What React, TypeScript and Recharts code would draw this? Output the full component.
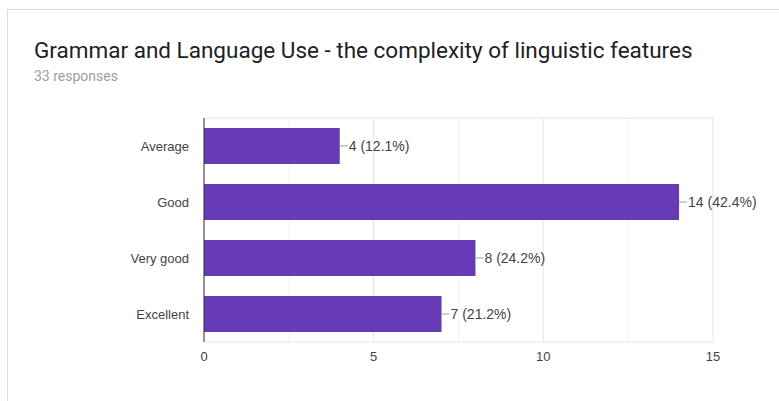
import React from 'react';
import { BarChart, Bar, XAxis, YAxis, CartesianGrid, LabelList } from 'recharts';

const titleText = 'Grammar and Language Use - the complexity of linguistic features';
const subtitleText = '33 responses';
const categories = ['Average', 'Good', 'Very good', 'Excellent'];
const counts = [4, 14, 8, 7];
const percents = ['12.1%', '42.4%', '24.2%', '21.2%'];
const xTicks = [0, 5, 10, 15];
const minorTicks = [2.5, 7.5, 12.5];
const xDomain = [0, 15];

const data = categories.map((c, i) => ({ name: c, value: counts[i], pct: percents[i] }));

const FONT = '"Liberation Sans", Arial, sans-serif';

const ValueLabel = (props: any) => {
  const vb = props.viewBox && props.viewBox.width !== undefined ? props.viewBox : props;
  const x = Number(vb.x);
  const y = Number(vb.y);
  const width = Number(vb.width);
  const height = Number(vb.height);
  const index = props.index;
  const ex = x + width;
  const cy = y + height / 2;
  return (
    <g>
      <line x1={ex} y1={cy} x2={ex + 8} y2={cy} stroke="#9e9e9e" strokeWidth={1} />
      <text x={ex + 9} y={cy} dy="0.35em" fontSize={14} fill="#444" fontFamily={FONT}>
        {`${counts[index]} (${percents[index]})`}
      </text>
    </g>
  );
};

const minorGen = (p: any) => {
  const s = p && p.xAxis && p.xAxis.scale;
  return minorTicks.map((v) => {
    if (typeof s === 'function') return s(v);
    const o = p.offset;
    return o.left + ((v - xDomain[0]) / (xDomain[1] - xDomain[0])) * o.width;
  });
};

export default function App() {
  return (
    <div style={{ position: 'absolute', left: 0, top: 0, width: 779, height: 401, background: '#fff', overflow: 'hidden' }}>
      <div
        style={{
          position: 'absolute',
          left: 7,
          top: 9,
          width: 800,
          height: 420,
          borderLeft: '1px solid #dadce0',
          borderTop: '1px solid #dadce0',
        }}
      />
      <svg style={{ position: 'absolute', left: 0, top: 0 }} width={779} height={100}>
        <text x={34} y={58} fontSize={22.5} fill="#202124" fontFamily="Roboto, sans-serif">
          {titleText}
        </text>
        <text x={34} y={81} fontSize={14} fill="#9e9e9e" fontFamily="Roboto, sans-serif">
          {subtitleText}
        </text>
      </svg>
      <div style={{ position: 'absolute', left: 0, top: 0 }}>
        <BarChart
          width={779}
          height={401}
          data={data}
          layout="vertical"
          margin={{ top: 118, right: 66, bottom: 39, left: 0 }}
          barCategoryGap={10}
        >
          <CartesianGrid stroke="#f2f2f2" horizontal={false} verticalCoordinatesGenerator={minorGen} />
          <CartesianGrid
            stroke="#e6e6e6"
            horizontalCoordinatesGenerator={(p: any) => [p.offset.top, p.offset.top + p.offset.height]}
          />
          <XAxis
            type="number"
            domain={xDomain}
            ticks={xTicks}
            axisLine={false}
            tickLine={false}
            tickMargin={4}
            height={20}
            tick={{ fontSize: 13, fill: '#444', fontFamily: FONT }}
          />
          <YAxis
            type="category"
            dataKey="name"
            width={204}
            axisLine={{ stroke: '#333' }}
            tickLine={false}
            tickMargin={9}
            tick={{ fontSize: 13, fill: '#444', fontFamily: FONT }}
          />
          <Bar dataKey="value" fill="#673ab7" barSize={36} isAnimationActive={false}>
            <LabelList dataKey="value" content={<ValueLabel />} />
          </Bar>
        </BarChart>
      </div>
    </div>
  );
}
